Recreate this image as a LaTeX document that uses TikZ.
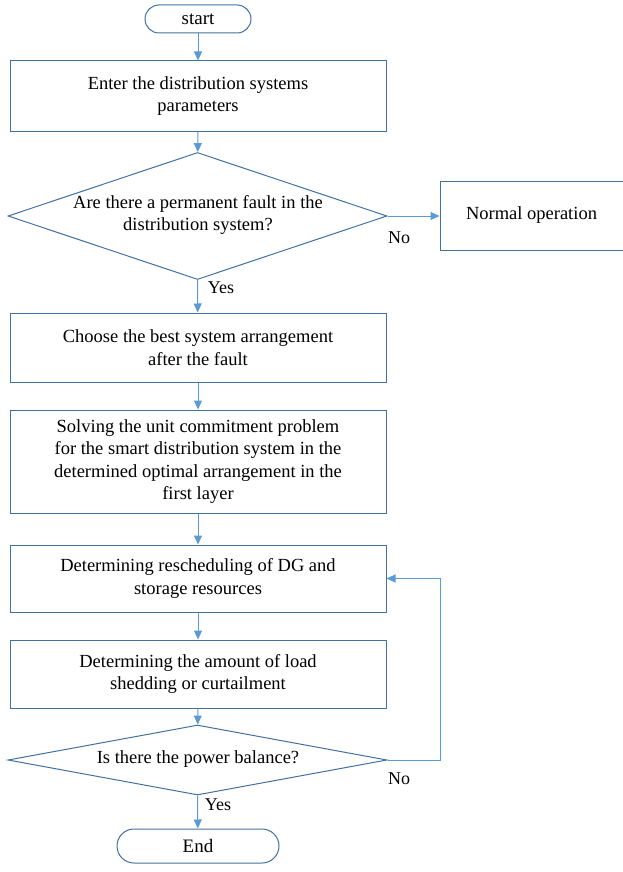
\documentclass[tikz,border=0pt]{standalone}
\usepackage{fontspec}
\setmainfont{Liberation Serif}
\usetikzlibrary{shapes.geometric,arrows.meta}
\definecolor{shapeblue}{RGB}{65,113,160}
\definecolor{lineblue}{RGB}{91,155,213}
\tikzset{
  box/.style={draw=shapeblue, line width=1pt, rectangle, minimum width=376pt, align=center, inner sep=0pt, font=\fontsize{18.5}{22.5}\selectfont},
  term/.style={draw=shapeblue, line width=1pt, rectangle, rounded corners=14pt, align=center, font=\fontsize{19}{22}\selectfont},
  dia/.style={draw=shapeblue, line width=1pt, diamond, inner sep=0pt},
  txt/.style={align=center, font=\fontsize{18.5}{22.5}\selectfont},
  lbl/.style={font=\fontsize{18}{20}\selectfont},
  conn/.style={draw=lineblue, line width=1pt, -{Triangle[width=8pt,length=9pt]}},
}
\begin{document}
\begin{tikzpicture}[x=1pt,y=-1pt]
\useasboundingbox (0,0) rectangle (623,872);
\node[term, minimum width=106pt, minimum height=28pt] (start) at (198,19) {start};
\node[box, minimum height=70pt] (b1) at (198,96) {Enter the distribution systems\\parameters};
\node[dia, minimum width=379pt, minimum height=127pt] (d1) at (197.5,216) {};
\node[txt] (d1t) at (198,215) {Are there a permanent fault in the\\distribution system?};
\node[box, minimum width=183pt, minimum height=69pt] (no1) at (531.5,215.5) {Normal operation};
\node[box, minimum height=69pt] (b2) at (198,347.5) {Choose the best system arrangement\\after the fault};
\node[box, minimum height=103pt] (b3) at (198,461.5) {Solving the unit commitment problem\\for the smart distribution system in the\\determined optimal arrangement in the\\first layer};
\node[box, minimum height=67pt] (b4) at (198,578.5) {Determining rescheduling of DG and\\storage resources};
\node[box, minimum height=68pt] (b5) at (198,674) {Determining the amount of load\\shedding or curtailment};
\node[dia, minimum width=379pt, minimum height=70pt] (d2) at (197.5,760) {};
\node[txt] (d2t) at (198,759) {Is there the power balance?};
\node[term, minimum width=162pt, minimum height=34pt, rounded corners=17pt] (end) at (198,846) {End};
\coordinate (c1) at (440,760);
\coordinate (c2) at (440,578.5);
\draw[conn] (start) -- (b1);
\draw[conn] (b1) -- (d1);
\draw[conn] (d1.east) -- (d1.east -| no1.west);
\draw[conn] (d1.south) -- (b2);
\draw[conn] (b2) -- (b3);
\draw[conn] (b3) -- (b4);
\draw[conn] (b4) -- (b5);
\draw[conn] (b5) -- (d2);
\draw[conn] (d2.south) -- (end);
\draw[conn] (d2.east) -- (c1) -- (c2) -- (b4.east);
\node[lbl] (no1l) at (399,238) {No};
\node[lbl] (yes1) at (221,288) {Yes};
\node[lbl] (no2l) at (399,779) {No};
\node[lbl] (yes2) at (218,805) {Yes};
\end{tikzpicture}
\end{document}
